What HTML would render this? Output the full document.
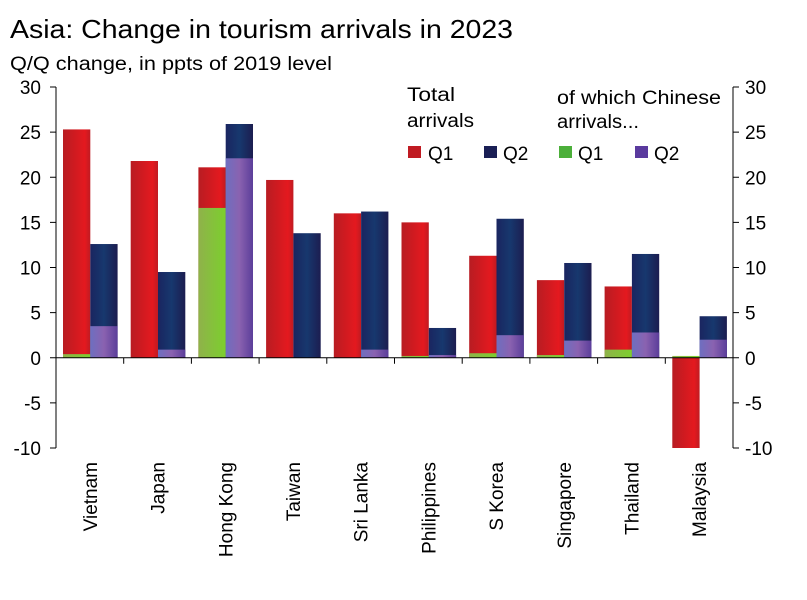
<!DOCTYPE html>
<html><head><meta charset="utf-8">
<style>
body{margin:0;background:#fff;width:807px;height:595px;overflow:hidden;font-family:"Liberation Sans",sans-serif}
</style></head>
<body>
<svg id="chart" width="807" height="595" xmlns="http://www.w3.org/2000/svg" font-family="Liberation Sans, sans-serif">
<defs>
<linearGradient id="gRed" x1="0" x2="1"><stop offset="0" stop-color="#b81c22"/><stop offset="0.8" stop-color="#e4191f"/><stop offset="1" stop-color="#c01b22"/></linearGradient>
<linearGradient id="gNavy" x1="0" x2="1"><stop offset="0" stop-color="#1a2560"/><stop offset="0.5" stop-color="#17386e"/><stop offset="1" stop-color="#1c1d50"/></linearGradient>
<linearGradient id="gGreen" x1="0" x2="1"><stop offset="0" stop-color="#8fb24a"/><stop offset="1" stop-color="#7ccf2e"/></linearGradient>
<linearGradient id="gPurple" x1="0" x2="1"><stop offset="0" stop-color="#6e6fc0"/><stop offset="0.5" stop-color="#8a62b0"/><stop offset="1" stop-color="#5b3e9a"/></linearGradient>
</defs>
<text x="10" y="38" font-size="26" fill="#000" textLength="503" lengthAdjust="spacingAndGlyphs">Asia: Change in tourism arrivals in 2023</text>
<text x="10" y="70" font-size="19" fill="#000" textLength="322" lengthAdjust="spacingAndGlyphs">Q/Q change, in ppts of 2019 level</text>
<g id="plot"></g>
<g font-size="19" fill="#000">
<text x="407" y="101" textLength="48" lengthAdjust="spacingAndGlyphs">Total</text><text x="407" y="127" textLength="67" lengthAdjust="spacingAndGlyphs">arrivals</text>
<text x="557" y="104" textLength="164" lengthAdjust="spacingAndGlyphs">of which Chinese</text><text x="557" y="128" textLength="82" lengthAdjust="spacingAndGlyphs">arrivals...</text>
<rect x="408" y="146" width="13" height="12" fill="#c01b22"/><text x="428" y="160">Q1</text>
<rect x="484" y="146" width="13" height="12" fill="#1a1f55"/><text x="503" y="160">Q2</text>
<rect x="559" y="146" width="13" height="12" fill="#4caf3a"/><text x="578" y="160">Q1</text>
<rect x="635" y="146" width="13" height="12" fill="#5a3a9e"/><text x="654" y="160">Q2</text>
</g>
</svg>
<script>
const categories=["Vietnam","Japan","Hong Kong","Taiwan","Sri Lanka","Philippines","S Korea","Singapore","Thailand","Malaysia"];
const totalQ1=[25.3,21.8,21.1,19.7,16.0,15.0,11.3,8.6,7.9,-10];
const totalQ2=[12.6,9.5,25.9,13.8,16.2,3.3,15.4,10.5,11.5,4.6];
const chinaQ1=[0.4,0,16.6,0,0,0.2,0.5,0.3,0.9,0.2];
const chinaQ2=[3.5,0.9,22.1,0,0.9,0.3,2.5,1.9,2.8,2.0];
const yTicks=[30,25,20,15,10,5,0,-5,-10];
const NS="http://www.w3.org/2000/svg";
const plot=document.getElementById('plot');
const X0=56,X1=733,yTop=87,yBot=448,yMax=30,yMin=-10;
const y=v=>yTop+(yMax-v)*(yBot-yTop)/(yMax-yMin);
const gw=(X1-X0)/categories.length;
const bw=27.3;
const xb=(i,k)=>X0+i*gw+7+k*bw;
function mk(tag,attrs){const e=document.createElementNS(NS,tag);for(const k in attrs)e.setAttribute(k,attrs[k]);plot.appendChild(e);return e;}
function bar(i,k,v,fill,name){
  const e=mk('rect',{x:xb(i,k),y:Math.min(y(v),y(0)),width:bw,height:Math.abs(y(v)-y(0)),fill:fill});
  
  
}
categories.forEach((c,i)=>{
  bar(i,0,totalQ1[i],'url(#gRed)','bar-total-q1-'+i);
  bar(i,1,totalQ2[i],'url(#gNavy)','bar-total-q2-'+i);
  if(chinaQ1[i]>0)bar(i,0,chinaQ1[i],'url(#gGreen)','bar-china-q1-'+i);
  if(chinaQ2[i]>0)bar(i,1,chinaQ2[i],'url(#gPurple)','bar-china-q2-'+i);
  const cx=X0+(i+0.5)*gw;
  const t=mk('text',{x:0,y:0,transform:`translate(${cx+7},462) rotate(-90)`,'text-anchor':'end','font-size':19,fill:'#000'});
  t.textContent=c;
  
  
  if(i>0){const tk=mk('line',{x1:X0+i*gw,x2:X0+i*gw,y1:y(0),y2:y(0)+6,stroke:'#000','stroke-width':1});
    
    }
});
const ax=mk('line',{x1:X0,x2:X1,y1:y(0),y2:y(0),stroke:'#000','stroke-width':1});


[[X0,-1],[X1,1]].forEach(([xa,s])=>{
  const l=mk('line',{x1:xa,x2:xa,y1:yTop,y2:yBot,stroke:'#000','stroke-width':1});
  
  
  yTicks.forEach(v=>{
    const tk=mk('line',{x1:xa,x2:xa+s*6,y1:y(v),y2:y(v),stroke:'#000','stroke-width':1});
    
    
    const t=mk('text',{x:s<0?xa-15:xa+12,y:y(v)+7,'text-anchor':s<0?'end':'start','font-size':19,fill:'#000'});
    t.textContent=v;
    
    
  });
});
</script>
</body></html>
